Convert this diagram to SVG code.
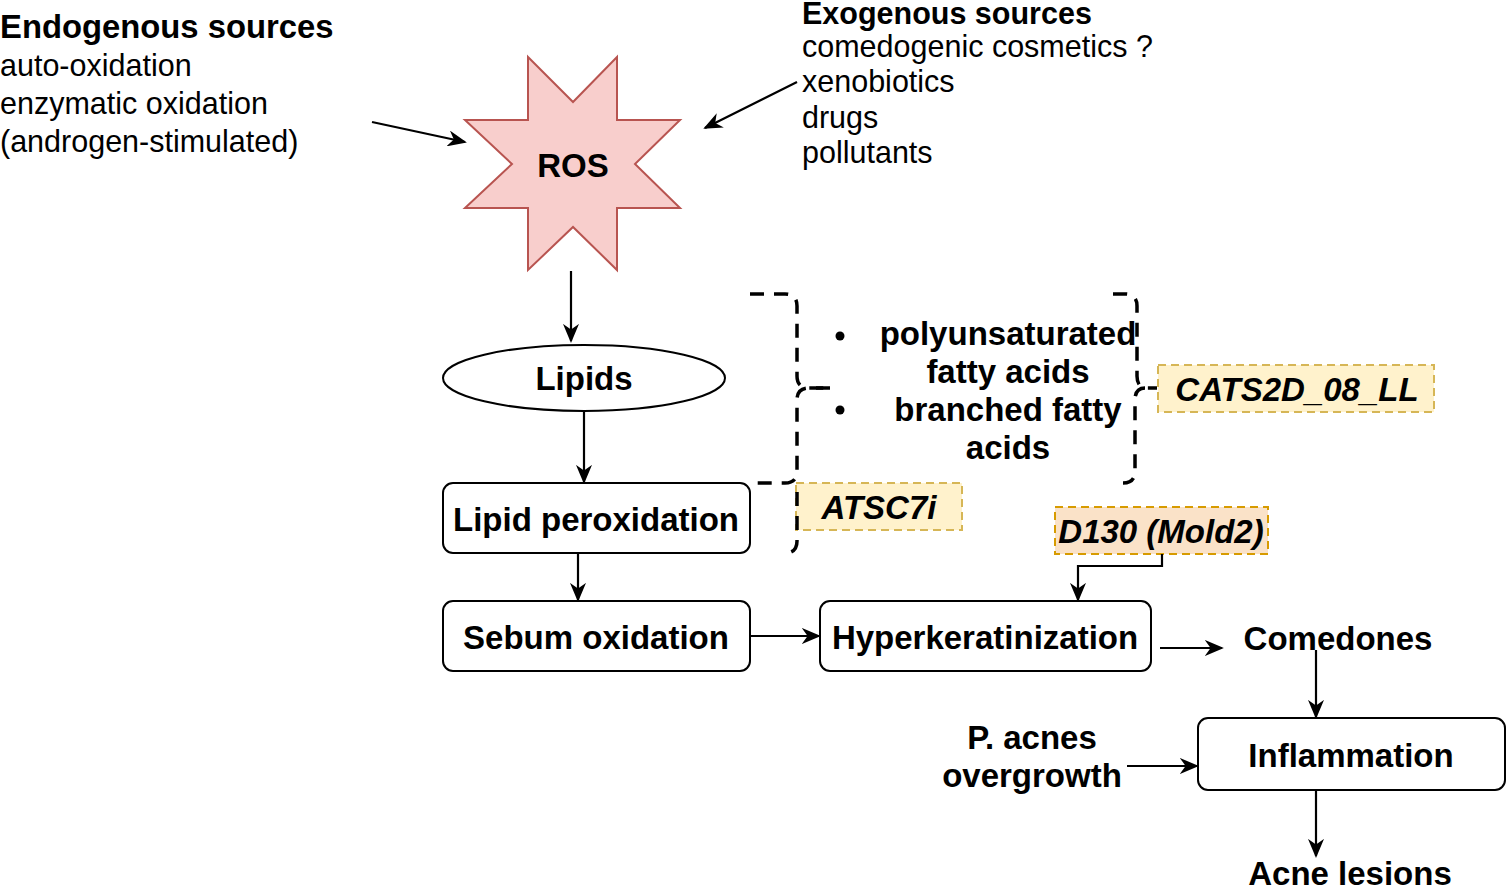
<svg xmlns="http://www.w3.org/2000/svg" width="1506" height="886" viewBox="0 0 1506 886">
<defs>
<marker id="arr" viewBox="0 0 10 10" refX="9" refY="5" markerWidth="19" markerHeight="16" markerUnits="userSpaceOnUse" orient="auto" preserveAspectRatio="none">
<path d="M0,0 L10,5 L0,10 L3,5 Z" fill="#000"/>
</marker>
<style>
.t{font-family:"Liberation Sans",Arial,sans-serif;fill:#000}
.b{font-weight:bold}
.n{font-size:33px;font-weight:bold;text-anchor:middle}
.r{font-size:30.5px}
.box{fill:#fff;stroke:#000;stroke-width:2}
.c{stroke:#000;stroke-width:2.2;fill:none;marker-end:url(#arr)}
.br{stroke:#000;stroke-width:3.5;fill:none;stroke-dasharray:14 10}
.tag{font-size:33px;font-weight:bold;font-style:italic;text-anchor:middle}
</style>
</defs>
<rect width="1506" height="886" fill="#fff"/>

<g id="endogenous">
<text class="t b" x="0" y="38" font-size="32.8">Endogenous sources</text>
<text class="t r" x="0" y="76">auto-oxidation</text>
<text class="t r" x="0" y="114">enzymatic oxidation</text>
<text class="t r" x="0" y="152">(androgen-stimulated)</text>
</g>
<g id="exogenous">
<text class="t b" x="802" y="24" font-size="30.5">Exogenous sources</text>
<text class="t r" x="802" y="57">comedogenic cosmetics ?</text>
<text class="t r" x="802" y="92">xenobiotics</text>
<text class="t r" x="802" y="128">drugs</text>
<text class="t r" x="802" y="163">pollutants</text>
</g>
<g id="ros">
<polygon points="528,57 573,102 617,57 617,120 680,120 635,164 680,208 617,208 617,270 573,227 528,270 528,208 465,208 512,164 465,120 528,120" fill="#f8cecc" stroke="#b85450" stroke-width="2"/>
<text class="t n" x="573" y="177">ROS</text>
</g>
<g id="lipids">
<ellipse cx="584" cy="378" rx="141" ry="33" class="box"/>
<text class="t n" x="584" y="390">Lipids</text>
</g>
<g id="lipid-peroxidation">
<rect x="443" y="483" width="307" height="70" rx="10" class="box"/>
<text class="t n" x="596" y="531">Lipid peroxidation</text>
</g>
<g id="sebum-oxidation">
<rect x="443" y="601" width="307" height="70" rx="10" class="box"/>
<text class="t n" x="596" y="649">Sebum oxidation</text>
</g>
<g id="hyperkeratinization">
<rect x="820" y="601" width="331" height="70" rx="10" class="box"/>
<text class="t n" x="985" y="649">Hyperkeratinization</text>
</g>
<g id="comedones">
<text class="t n" x="1338" y="650">Comedones</text>
</g>
<g id="inflammation">
<rect x="1198" y="718" width="307" height="72" rx="10" class="box"/>
<text class="t n" x="1351" y="767">Inflammation</text>
</g>
<g id="acne-lesions">
<text class="t n" x="1350" y="885">Acne lesions</text>
</g>
<g id="p-acnes">
<text class="t n" x="1032" y="749">P. acnes</text>
<text class="t n" x="1032" y="787">overgrowth</text>
</g>
<g id="fatty-acids">
<text class="t n" x="1008" y="345">polyunsaturated</text>
<text class="t n" x="1008" y="383">fatty acids</text>
<text class="t n" x="1008" y="421">branched fatty</text>
<text class="t n" x="1008" y="459">acids</text>
<circle cx="840" cy="336" r="4.5" fill="#000"/>
<circle cx="840" cy="410" r="4.5" fill="#000"/>
</g>
<g id="atsc7i">
<rect x="796" y="483" width="166" height="47" fill="#fff2cc" stroke="#d6b656" stroke-width="2" stroke-dasharray="8 5"/>
<text class="t tag" x="879" y="519">ATSC7i</text>
</g>
<g id="cats2d">
<rect x="1158" y="365" width="276" height="47" fill="#fff2cc" stroke="#d6b656" stroke-width="2" stroke-dasharray="8 5"/>
<text class="t tag" x="1297" y="401">CATS2D_08_LL</text>
</g>
<g id="d130">
<rect x="1055" y="507" width="213" height="47" fill="#fae2c8" stroke="#d79b00" stroke-width="2" stroke-dasharray="8 5"/>
<text class="t tag" x="1161" y="543">D130 (Mold2)</text>
</g>

<g id="braces">
<path class="br" d="M750,294 H785 Q797,294 797,306 V376 Q797,388 809,388 H830"/>
<path class="br" d="M830,388 H809 Q797,388 797,400 V471 Q797,483 785,483 H750"/>
<path class="br" d="M797,492 V541 Q797,553 785,553"/>
<path class="br" d="M1113,294 H1125 Q1137,294 1137,306 V376 Q1137,388 1147,388 H1157"/>
<path class="br" d="M1145,388 Q1135,388 1135,400 V471 Q1135,483 1123,483"/>
</g>

<g id="connectors">
<line class="c" x1="372" y1="122" x2="465" y2="142"/>
<line class="c" x1="797" y1="82" x2="705" y2="128"/>
<line class="c" x1="571" y1="271" x2="571" y2="341"/>
<line class="c" x1="584" y1="411" x2="584" y2="482"/>
<line class="c" x1="578" y1="553" x2="578" y2="600"/>
<line class="c" x1="750" y1="636" x2="819" y2="636"/>
<line class="c" x1="1160" y1="648" x2="1222" y2="648"/>
<line class="c" x1="1316" y1="650" x2="1316" y2="717"/>
<line class="c" x1="1316" y1="790" x2="1316" y2="856"/>
<line class="c" x1="1127" y1="766" x2="1197" y2="766"/>
<polyline class="c" points="1162,554 1162,566 1078,566 1078,600"/>
</g>
</svg>
